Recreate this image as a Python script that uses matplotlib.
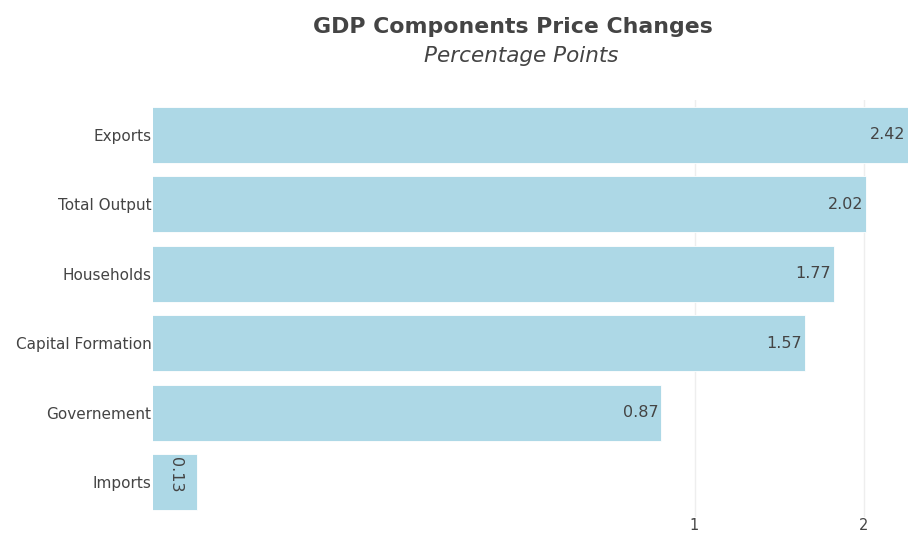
import matplotlib.pyplot as plt
from matplotlib.ticker import FixedLocator, NullLocator, FixedFormatter

# data
categories = ["Exports", "Total Output", "Households", "Capital Formation", "Governement", "Imports"]
values = [2.42, 2.02, 1.77, 1.57, 0.87, 0.13]

bar_color = "#add8e6"
text_color = "#444444"
plt.rcParams['font.family'] = 'DejaVu Sans'

fig = plt.figure(figsize=(9.08, 5.33), dpi=100)
ax = fig.add_axes([153/908, 16/533, 755/908, 417/533])

xmin, xmax = 0.1085, 2.40
pos = list(range(len(categories)))
ax.barh(pos, values, height=0.8, color=bar_color, edgecolor='white', linewidth=0.6, zorder=2)
ax.set_xscale('log')
ax.set_xlim(xmin, xmax)
ax.set_ylim(len(categories) - 0.5, -0.5)

ax.set_yticks(pos)
ax.set_yticklabels(categories, fontsize=11, color=text_color)
ax.xaxis.set_major_locator(FixedLocator([1, 2]))
ax.xaxis.set_major_formatter(FixedFormatter(["1", "2"]))
ax.xaxis.set_minor_locator(NullLocator())
ax.tick_params(axis='x', labelsize=10.5, colors=text_color, length=0, pad=1)
ax.tick_params(axis='y', length=0, pad=1)
ax.grid(axis='x', color='#eeeeee', linewidth=1, zorder=0)
for s in ax.spines.values():
    s.set_visible(False)

# value labels inside bars
for p, v in zip(pos, values):
    if v < 0.3:
        ax.text((xmin * v) ** 0.5, p - 0.36, "{:.2f}".format(v), rotation=-90, ha='center', va='top',
                fontsize=11.5, color=text_color, zorder=3)
    else:
        ax.text(min(v, xmax) * 0.99, p, "{:.2f}".format(v), ha='right', va='center',
                fontsize=11.5, color=text_color, zorder=3)

fig.text(513/908, 0.95, "GDP Components Price Changes", ha='center', va='center',
         fontsize=15.8, fontweight='bold', color=text_color)
fig.text(521/908, 0.895, "Percentage Points", ha='center', va='center',
         fontsize=15.5, style='italic', color=text_color)

fig.savefig("out.png", dpi=100)
